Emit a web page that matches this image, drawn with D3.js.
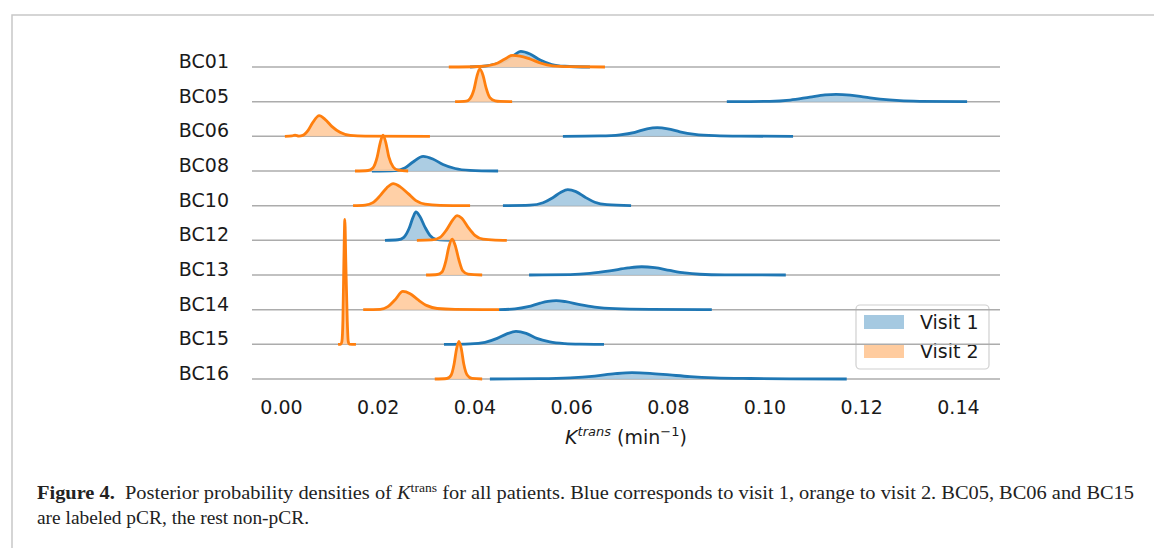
<!DOCTYPE html>
<html>
<head>
<meta charset="utf-8">
<script src="https://cdn.jsdelivr.net/npm/d3@7"></script>
<style>
body { margin: 0; background: #fff; }
svg { display: block; }
</style>
</head>
<body>
<svg id="chart"></svg>
<script>
// patients, one ridge row each (top to bottom)
var patients = ['BC01','BC05','BC06','BC08','BC10','BC12','BC13','BC14','BC15','BC16']

// posterior density: [Ktrans, density]
var visit1 = [
    [[0.0391,0],[0.0432,16],[0.0463,62],[0.0480,114],[0.0496,162],[0.0515,135],[0.0536,73],[0.0560,26],[0.0587,8],[0.0639,0]],
    [[0.0922,0],[0.1011,3],[0.1053,16],[0.1094,47],[0.1125,70],[0.1148,76],[0.1177,68],[0.1208,47],[0.1239,26],[0.1280,10],[0.1321,4],[0.1419,0]],
    [[0.0583,0],[0.0660,4],[0.0701,16],[0.0732,42],[0.0757,78],[0.0778,90],[0.0800,78],[0.0825,47],[0.0856,21],[0.0897,7],[0.0949,2],[0.1059,0]],
    [[0.0188,0],[0.0236,5],[0.0256,31],[0.0273,94],[0.0294,152],[0.0314,125],[0.0335,68],[0.0360,26],[0.0391,7],[0.0449,0]],
    [[0.0459,0],[0.0515,5],[0.0542,31],[0.0562,83],[0.0579,140],[0.0593,166],[0.0610,146],[0.0629,88],[0.0649,36],[0.0674,10],[0.0724,0]],
    [[0.0215,0],[0.0242,6],[0.0254,31],[0.0265,125],[0.0273,239],[0.0279,295],[0.0287,250],[0.0298,135],[0.0308,52],[0.0321,10],[0.0339,2],[0.0360,0]],
    [[0.0513,0],[0.0598,4],[0.0639,16],[0.0680,42],[0.0718,73],[0.0746,86],[0.0773,76],[0.0804,47],[0.0835,21],[0.0866,8],[0.0918,2],[0.1044,0]],
    [[0.0451,0],[0.0484,8],[0.0511,31],[0.0536,68],[0.0552,86],[0.0569,94],[0.0589,83],[0.0618,52],[0.0649,26],[0.0691,10],[0.0763,3],[0.0891,0]],
    [[0.0337,0],[0.0391,5],[0.0422,21],[0.0447,62],[0.0467,109],[0.0486,135],[0.0507,114],[0.0529,62],[0.0556,26],[0.0587,8],[0.0618,2],[0.0668,0]],
    [[0.0432,0],[0.0536,3],[0.0598,12],[0.0649,31],[0.0691,55],[0.0726,66],[0.0763,59],[0.0804,42],[0.0846,25],[0.0897,12],[0.0970,5],[0.1053,2],[0.1170,0]]
]

var visit2 = [
    [[0.0347,0],[0.0411,5],[0.0443,31],[0.0463,83],[0.0478,120],[0.0494,114],[0.0515,83],[0.0536,42],[0.0562,12],[0.0598,3],[0.0670,0]],
    [[0.0360,0],[0.0383,5],[0.0391,31],[0.0399,125],[0.0405,260],[0.0411,340],[0.0418,270],[0.0424,146],[0.0432,42],[0.0443,8],[0.0453,2],[0.0478,0]],
    [[0.0008,0],[0.0023,5],[0.0029,12],[0.0037,3],[0.0045,10],[0.0056,62],[0.0066,146],[0.0079,215],[0.0091,177],[0.0105,104],[0.0122,42],[0.0143,10],[0.0174,2],[0.0308,0]],
    [[0.0153,0],[0.0180,5],[0.0190,31],[0.0199,146],[0.0205,291],[0.0211,374],[0.0217,291],[0.0223,146],[0.0232,42],[0.0242,8],[0.0263,0]],
    [[0.0149,0],[0.0174,5],[0.0190,31],[0.0205,104],[0.0219,187],[0.0232,229],[0.0246,198],[0.0263,125],[0.0279,52],[0.0298,16],[0.0329,3],[0.0391,0]],
    [[0.0281,0],[0.0312,4],[0.0329,31],[0.0343,114],[0.0356,218],[0.0364,257],[0.0374,229],[0.0387,135],[0.0401,52],[0.0418,12],[0.0443,2],[0.0467,0]],
    [[0.0300,0],[0.0323,5],[0.0333,31],[0.0341,146],[0.0347,291],[0.0354,374],[0.0360,312],[0.0368,156],[0.0376,42],[0.0387,8],[0.0416,0]],
    [[0.0170,0],[0.0205,4],[0.0221,31],[0.0236,104],[0.0252,190],[0.0267,166],[0.0283,104],[0.0302,42],[0.0323,12],[0.0360,3],[0.0451,0]],
    [[0.0118,0],[0.0124,3],[0.0126,31],[0.0128,250],[0.0130,863],[0.0132,1300],[0.0134,863],[0.0137,250],[0.0139,31],[0.0141,3],[0.0155,0]],
    [[0.0318,0],[0.0343,5],[0.0352,42],[0.0358,156],[0.0363,312],[0.0368,391],[0.0373,312],[0.0378,156],[0.0385,42],[0.0395,6],[0.0416,0]]
]

var xTicks = [0, 0.02, 0.04, 0.06, 0.08, 0.10, 0.12, 0.14]
var visits = ['Visit 1', 'Visit 2']

var colors = {
    line: ['#1f77b4', '#ff7f0e'],
    fill: ['#a5c9e1', '#ffcc9f']
}

var width = 1154, height = 548

var svg = d3.select('#chart').attr('width', width).attr('height', height)
    .style('font-family', 'DejaVu Sans')

// page frame
svg.append('path')
    .attr('d', 'M12,' + height + 'V15H' + width)
    .attr('fill', 'none')
    .attr('stroke', '#c8c8c8')
    .attr('stroke-width', 1.5)

var x = d3.scaleLinear().domain([-0.006, 0.1487]).range([252, 1000])
var row = d3.scalePoint().domain(patients).range([67, 379])
var dens = d3.scaleLinear().domain([0, 1300]).range([0, 125])

// legend sits under the ridge baselines
var legend = svg.append('g')
legend.append('rect')
    .attr('x', 856).attr('y', 305)
    .attr('width', 133).attr('height', 64)
    .attr('rx', 4)
    .attr('fill', '#fff')
    .attr('stroke', '#d0d0d0')
    .attr('stroke-width', 1.2)

visits.forEach(function(v, i) {
    legend.append('rect')
        .attr('x', 864).attr('y', 315 + i * 29)
        .attr('width', 40).attr('height', 14)
        .attr('fill', colors.fill[i])
    legend.append('text')
        .attr('x', 920).attr('y', 329 + i * 29)
        .attr('font-size', '19px')
        .attr('fill', '#1a1a1a')
        .text(v)
})

var area = function(base) {
    return d3.area()
        .x(function(d) { return x(d[0]) })
        .y0(base)
        .y1(function(d) { return base - dens(d[1]) })
        .curve(d3.curveMonotoneX)
}
var line = function(base) {
    return d3.line()
        .x(function(d) { return x(d[0]) })
        .y(function(d) { return base - dens(d[1]) })
        .curve(d3.curveMonotoneX)
}

patients.forEach(function(p, i) {
    var base = row(p)
    var g = svg.append('g')

    g.append('line')
        .attr('x1', x.range()[0]).attr('x2', x.range()[1])
        .attr('y1', base).attr('y2', base)
        .attr('stroke', '#acacac')
        .attr('stroke-width', 1.5)

    ;[visit1[i], visit2[i]].forEach(function(curve, j) {
        g.append('path')
            .datum(curve)
            .attr('d', area(base))
            .attr('fill', colors.fill[j])
            .attr('fill-opacity', 0.92)
        g.append('path')
            .datum(curve)
            .attr('d', line(base))
            .attr('fill', 'none')
            .attr('stroke', colors.line[j])
            .attr('stroke-width', 2.8)
            .attr('stroke-linejoin', 'round')
    })

    svg.append('text')
        .attr('x', 229)
        .attr('y', base + 1)
        .attr('text-anchor', 'end')
        .attr('font-size', '19px')
        .attr('fill', '#1a1a1a')
        .text(p)
})

// x axis, labels only
var axis = svg.append('g')
    .attr('transform', 'translate(0,' + 396 + ')')
    .call(d3.axisBottom(x).tickValues(xTicks).tickFormat(d3.format('.2f')).tickSize(0).tickPadding(0))
axis.select('.domain').remove()
axis.selectAll('text')
    .attr('dy', '0.71em')
    .attr('y', 4)
    .attr('font-size', '19px')
    .attr('font-family', 'DejaVu Sans')
    .attr('fill', '#1a1a1a')

var xlab = svg.append('text')
    .attr('x', (x.range()[0] + x.range()[1]) / 2)
    .attr('y', 444)
    .attr('text-anchor', 'middle')
    .attr('font-size', '19px')
    .attr('fill', '#1a1a1a')
xlab.append('tspan').attr('font-style', 'italic').text('K')
xlab.append('tspan').attr('font-style', 'italic').attr('font-size', '13px').attr('dy', -8).text('trans')
xlab.append('tspan').attr('dy', 8).text(' (min')
xlab.append('tspan').attr('font-size', '13px').attr('dy', -8).text('\u22121')
xlab.append('tspan').attr('dy', 8).text(')')

// caption
var cap1 = svg.append('text')
    .attr('x', 37).attr('y', 499)
    .attr('font-family', 'Liberation Serif')
    .attr('font-size', '18px')
    .attr('fill', '#222')
    .attr('textLength', 1097)
    .attr('lengthAdjust', 'spacingAndGlyphs')
cap1.append('tspan').attr('font-weight', 'bold').text('Figure 4.')
cap1.append('tspan').text('\u2002Posterior probability densities of ')
cap1.append('tspan').attr('font-style', 'italic').text('K')
cap1.append('tspan').attr('font-size', '12px').attr('dy', -7).text('trans')
cap1.append('tspan').attr('dy', 7).text(' for all patients. Blue corresponds to visit 1, orange to visit 2. BC05, BC06 and BC15')

svg.append('text')
    .attr('x', 37).attr('y', 524)
    .attr('font-family', 'Liberation Serif')
    .attr('font-size', '18px')
    .attr('fill', '#222')
    .attr('textLength', 272)
    .attr('lengthAdjust', 'spacingAndGlyphs')
    .text('are labeled pCR, the rest non-pCR.')
</script>
</body>
</html>
